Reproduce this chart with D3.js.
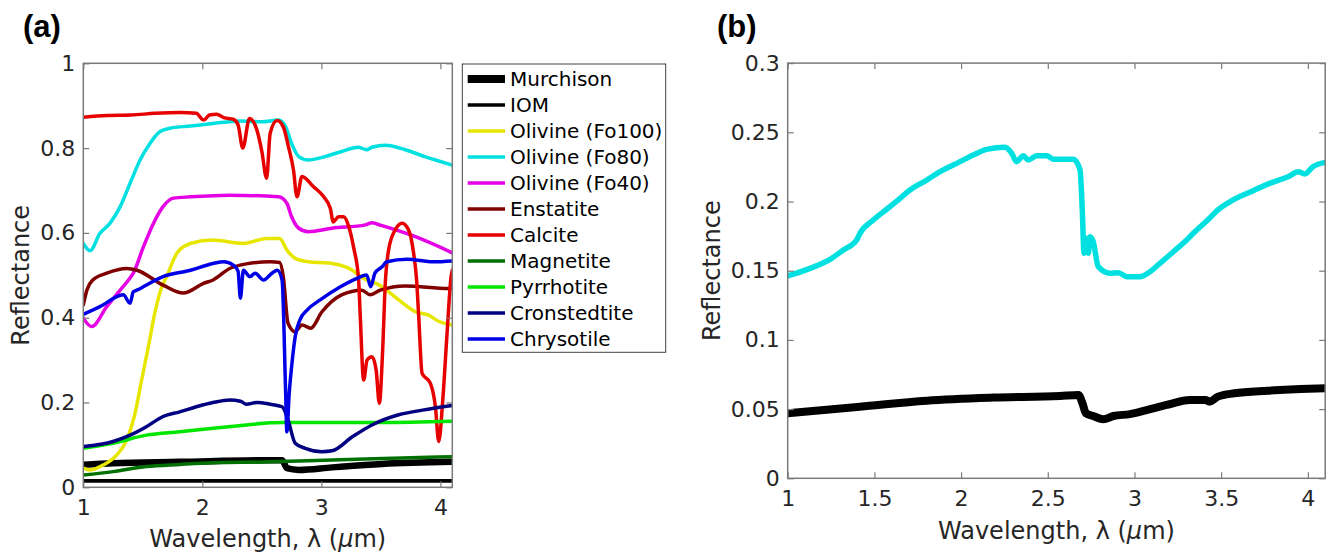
<!DOCTYPE html>
<html>
<head>
<meta charset="utf-8">
<script src="https://cdn.jsdelivr.net/npm/d3@7"></script>
<style>
body { margin: 0; background: #fff; }
svg { display: block; font-family: "DejaVu Sans", sans-serif; }
</style>
</head>
<body>
<svg id="chart" width="1328" height="556"></svg>
<script>
// ---- Panel (a) spectra, wavelength (um) / reflectance ----
var murchisonX = [1.00, 1.25, 1.81, 2.57, 2.67, 2.69, 2.71, 2.81, 3.09, 3.51, 4.10];
var murchisonY = [0.053, 0.057, 0.060, 0.064, 0.064, 0.055, 0.045, 0.041, 0.047, 0.055, 0.060];

var iomX = [1.0, 2.0, 3.0, 4.1];
var iomY = [0.015, 0.015, 0.015, 0.015];

var fo100X = [1.00, 1.056, 1.17, 1.28, 1.365, 1.435, 1.49, 1.547, 1.60, 1.66, 1.70, 1.786, 1.90, 2.09, 2.345, 2.54, 2.65, 2.71, 2.78, 2.89, 3.09, 3.26, 3.34, 3.48, 3.65, 3.79, 3.90, 3.99, 4.10];
var fo100Y = [0.045, 0.041, 0.053, 0.076, 0.112, 0.175, 0.253, 0.332, 0.410, 0.473, 0.497, 0.552, 0.575, 0.583, 0.575, 0.587, 0.587, 0.560, 0.540, 0.532, 0.528, 0.512, 0.495, 0.478, 0.442, 0.414, 0.406, 0.391, 0.383];

var fo80X = [1.00, 1.056, 1.14, 1.225, 1.31, 1.393, 1.477, 1.56, 1.645, 1.73, 1.90, 2.09, 2.32, 2.50, 2.64, 2.70, 2.75, 2.81, 2.89, 3.03, 3.17, 3.31, 3.38, 3.425, 3.54, 3.705, 3.87, 4.10];
var fo80Y = [0.575, 0.558, 0.599, 0.623, 0.662, 0.717, 0.772, 0.811, 0.839, 0.847, 0.852, 0.858, 0.864, 0.862, 0.866, 0.850, 0.811, 0.780, 0.772, 0.780, 0.792, 0.802, 0.796, 0.802, 0.807, 0.796, 0.780, 0.760];

var fo40X = [1.00, 1.07, 1.197, 1.31, 1.38, 1.42, 1.505, 1.59, 1.67, 1.757, 1.90, 2.23, 2.64, 2.71, 2.75, 2.81, 2.89, 3.09, 3.37, 3.425, 3.51, 3.79, 4.10];
var fo40Y = [0.399, 0.379, 0.426, 0.465, 0.489, 0.505, 0.567, 0.623, 0.662, 0.682, 0.685, 0.689, 0.685, 0.670, 0.638, 0.611, 0.603, 0.611, 0.619, 0.624, 0.617, 0.591, 0.553];

var enstatiteX = [1.00, 1.03, 1.08, 1.197, 1.365, 1.45, 1.67, 1.84, 2.01, 2.09, 2.23, 2.37, 2.57, 2.65, 2.68, 2.72, 2.78, 2.837, 2.91, 3.005, 3.17, 3.34, 3.41, 3.495, 3.705, 4.07, 4.10];
var enstatiteY = [0.430, 0.465, 0.489, 0.505, 0.516, 0.512, 0.477, 0.458, 0.481, 0.489, 0.516, 0.527, 0.532, 0.530, 0.497, 0.387, 0.367, 0.383, 0.375, 0.414, 0.454, 0.465, 0.454, 0.465, 0.475, 0.469, 0.469];

var calciteX = [1.00, 1.20, 1.40, 1.60, 1.81, 1.95, 2.01, 2.06, 2.12, 2.18, 2.26, 2.30, 2.34, 2.396, 2.458, 2.50, 2.54, 2.57, 2.627, 2.68, 2.724, 2.766, 2.795, 2.837, 2.934, 3.02, 3.075, 3.10, 3.145, 3.187, 3.23, 3.27, 3.313, 3.327, 3.355, 3.384, 3.425, 3.46, 3.487, 3.515, 3.537, 3.565, 3.62, 3.678, 3.733, 3.775, 3.80, 3.818, 3.846, 3.916, 3.958, 3.986, 4.02, 4.056, 4.09, 4.10];
var calciteY = [0.873, 0.877, 0.878, 0.882, 0.884, 0.882, 0.866, 0.878, 0.880, 0.872, 0.868, 0.855, 0.800, 0.870, 0.843, 0.792, 0.729, 0.835, 0.865, 0.850, 0.803, 0.748, 0.685, 0.733, 0.709, 0.685, 0.658, 0.626, 0.638, 0.638, 0.615, 0.567, 0.489, 0.402, 0.253, 0.300, 0.308, 0.277, 0.198, 0.324, 0.481, 0.560, 0.607, 0.623, 0.607, 0.552, 0.489, 0.402, 0.269, 0.245, 0.190, 0.108, 0.206, 0.363, 0.497, 0.512];

var magnetiteX = [1.00, 1.25, 1.53, 1.81, 2.09, 2.57, 2.81, 3.37, 4.10];
var magnetiteY = [0.029, 0.037, 0.049, 0.054, 0.058, 0.060, 0.062, 0.067, 0.072];

var pyrrhotiteX = [1.00, 1.25, 1.53, 1.81, 2.09, 2.37, 2.57, 2.67, 3.0, 3.5, 4.10];
var pyrrhotiteY = [0.092, 0.104, 0.123, 0.131, 0.139, 0.147, 0.152, 0.153, 0.153, 0.153, 0.156];

var cronstedtiteX = [1.00, 1.25, 1.393, 1.53, 1.67, 1.81, 1.95, 2.09, 2.23, 2.32, 2.37, 2.46, 2.57, 2.67, 2.72, 2.78, 2.865, 3.005, 3.09, 3.26, 3.425, 3.65, 3.85, 4.10];
var cronstedtiteY = [0.096, 0.108, 0.123, 0.143, 0.167, 0.178, 0.190, 0.200, 0.206, 0.203, 0.196, 0.200, 0.196, 0.190, 0.159, 0.104, 0.092, 0.084, 0.086, 0.119, 0.147, 0.171, 0.182, 0.193];

var chrysotileX = [1.00, 1.14, 1.336, 1.393, 1.42, 1.45, 1.67, 1.90, 2.09, 2.18, 2.26, 2.30, 2.32, 2.345, 2.40, 2.444, 2.514, 2.585, 2.63, 2.67, 2.70, 2.71, 2.73, 2.75, 2.78, 2.82, 2.88, 2.99, 3.16, 3.30, 3.38, 3.415, 3.45, 3.51, 3.55, 3.72, 3.94, 4.10];
var chrysotileY = [0.408, 0.426, 0.454, 0.434, 0.461, 0.465, 0.497, 0.512, 0.528, 0.532, 0.524, 0.510, 0.446, 0.512, 0.497, 0.505, 0.489, 0.505, 0.512, 0.489, 0.222, 0.131, 0.222, 0.284, 0.355, 0.395, 0.418, 0.442, 0.473, 0.493, 0.501, 0.473, 0.505, 0.520, 0.532, 0.538, 0.532, 0.534];

// ---- Panel (b) spectra ----
var cyanBX = [1.000, 1.129, 1.244, 1.321, 1.398, 1.417, 1.494, 1.571, 1.648, 1.705, 1.802, 1.878, 1.994, 2.070, 2.148, 2.253, 2.292, 2.320, 2.359, 2.387, 2.436, 2.494, 2.532, 2.647, 2.686, 2.699, 2.709, 2.720, 2.734, 2.743, 2.762, 2.791, 2.859, 2.907, 2.955, 3.032, 3.090, 3.147, 3.224, 3.301, 3.339, 3.433, 3.481, 3.552, 3.672, 3.791, 3.886, 3.946, 3.982, 4.029, 4.100];
var cyanBY = [0.1462, 0.1517, 0.1582, 0.1650, 0.1722, 0.1770, 0.1866, 0.1944, 0.2023, 0.2083, 0.2155, 0.2215, 0.2288, 0.2336, 0.2377, 0.2392, 0.2348, 0.2288, 0.2331, 0.2300, 0.2331, 0.2331, 0.2305, 0.2305, 0.2228, 0.1939, 0.1626, 0.1734, 0.1626, 0.1746, 0.1710, 0.1529, 0.1481, 0.1486, 0.1457, 0.1457, 0.1493, 0.1553, 0.1637, 0.1722, 0.1770, 0.1879, 0.1939, 0.1999, 0.2071, 0.2136, 0.2179, 0.2215, 0.2199, 0.2251, 0.2283];

var blackBX = [1.000, 1.417, 1.802, 2.187, 2.571, 2.677, 2.700, 2.720, 2.762, 2.820, 2.878, 2.974, 3.070, 3.186, 3.320, 3.409, 3.433, 3.481, 3.576, 3.767, 3.958, 4.100];
var blackBY = [0.0470, 0.0517, 0.0561, 0.0583, 0.0595, 0.0602, 0.0542, 0.0470, 0.0450, 0.0426, 0.0450, 0.0464, 0.0493, 0.0530, 0.0566, 0.0566, 0.0554, 0.0590, 0.0614, 0.0633, 0.0645, 0.0650];

// ticks
var xTicksA = [1, 2, 3, 4];
var yTicksA = [0, 0.2, 0.4, 0.6, 0.8, 1];
var xTicksB = [1, 1.5, 2, 2.5, 3, 3.5, 4];
var yTicksB = [0, 0.05, 0.1, 0.15, 0.2, 0.25, 0.3];

//Colors
var axisColor = "#7a7a7a";
var textColor = "#262626";

var seriesA = [
    { name: "Murchison", x: murchisonX, y: murchisonY, color: "#000000", width: 6.5 },
    { name: "IOM", x: iomX, y: iomY, color: "#000000", width: 3.8 },
    { name: "Olivine (Fo100)", x: fo100X, y: fo100Y, color: "#e6e600", width: 3.5 },
    { name: "Olivine (Fo80)", x: fo80X, y: fo80Y, color: "#00e0e0", width: 3.5 },
    { name: "Olivine (Fo40)", x: fo40X, y: fo40Y, color: "#e600e6", width: 3.5 },
    { name: "Enstatite", x: enstatiteX, y: enstatiteY, color: "#800000", width: 3.5 },
    { name: "Calcite", x: calciteX, y: calciteY, color: "#e60000", width: 3.5 },
    { name: "Magnetite", x: magnetiteX, y: magnetiteY, color: "#007000", width: 3.5 },
    { name: "Pyrrhotite", x: pyrrhotiteX, y: pyrrhotiteY, color: "#00e600", width: 3.5 },
    { name: "Cronstedtite", x: cronstedtiteX, y: cronstedtiteY, color: "#000080", width: 3.5 },
    { name: "Chrysotile", x: chrysotileX, y: chrysotileY, color: "#0000e6", width: 3.5 }
];

var seriesB = [
    { x: cyanBX, y: cyanBY, color: "#00e0e0", width: 5.5 },
    { x: blackBX, y: blackBY, color: "#000000", width: 8 }
];

var svg = d3.select("#chart");

var xA = d3.scaleLinear().domain([1, 4.1]).range([83.3, 452.3]);
var yA = d3.scaleLinear().domain([0, 1]).range([487.3, 63.3]);
var xB = d3.scaleLinear().domain([1, 4.1]).range([787.7, 1325.2]);
var yB = d3.scaleLinear().domain([0, 0.3]).range([478.3, 63.1]);

function pairs(s) {
    var n = Math.min(s.x.length, s.y.length);
    return d3.range(n).map(function (i) { return [s.x[i], s.y[i]]; });
}

// axes box, inward ticks, labels
function drawAxes(id, x, y, xt, yt, xlabY, ylabX) {
    var g = svg.append("g").attr("class", "axes-" + id);
    var x0 = x.range()[0], x1 = x.range()[1], y0 = y.range()[0], y1 = y.range()[1];

    g.append("g").attr("transform", "translate(0," + y0 + ")")
        .call(d3.axisBottom(x).tickValues(xt).tickSize(-6).tickPadding(12).tickFormat(d3.format("~g")));
    g.append("g").attr("transform", "translate(0," + y1 + ")")
        .call(d3.axisTop(x).tickValues(xt).tickSize(-6).tickFormat(""));
    g.append("g").attr("transform", "translate(" + x0 + ",0)")
        .call(d3.axisLeft(y).tickValues(yt).tickSize(-6).tickPadding(8).tickFormat(d3.format("~g")));
    g.append("g").attr("transform", "translate(" + x1 + ",0)")
        .call(d3.axisRight(y).tickValues(yt).tickSize(-6).tickFormat(""));

    g.selectAll(".domain").remove();
    g.selectAll(".tick line").attr("stroke", axisColor).attr("stroke-width", 1.2);
    g.selectAll(".tick text").attr("fill", textColor).attr("font-size", "22px")
        .attr("font-family", "DejaVu Sans");

    g.append("rect")
        .attr("x", x0).attr("y", y1)
        .attr("width", x1 - x0).attr("height", y0 - y1)
        .attr("fill", "none").attr("stroke", axisColor).attr("stroke-width", 1.5);

    var xl = g.append("text")
        .attr("x", (x0 + x1) / 2).attr("y", xlabY)
        .attr("text-anchor", "middle").attr("font-size", "24px").attr("fill", textColor);
    xl.append("tspan").text("Wavelength, \u03bb (");
    xl.append("tspan").attr("font-style", "italic").text("\u03bc");
    xl.append("tspan").text("m)");

    g.append("text")
        .attr("transform", "translate(" + ylabX + "," + ((y0 + y1) / 2) + ") rotate(-90)")
        .attr("text-anchor", "middle").attr("dy", "0.35em")
        .attr("font-size", "24px").attr("fill", textColor)
        .text("Reflectance");
}

function drawLines(id, x, y, list) {
    svg.append("clipPath").attr("id", "clip-" + id)
        .append("rect")
        .attr("x", x.range()[0]).attr("y", y.range()[1])
        .attr("width", x.range()[1] - x.range()[0]).attr("height", y.range()[0] - y.range()[1]);

    var line = d3.line()
        .x(function (d) { return x(d[0]); })
        .y(function (d) { return y(d[1]); })
        .curve(d3.curveMonotoneX);

    svg.append("g").attr("clip-path", "url(#clip-" + id + ")")
        .selectAll("path").data(list).enter().append("path")
        .attr("d", function (d) { return line(pairs(d)); })
        .attr("fill", "none")
        .attr("stroke", function (d) { return d.color; })
        .attr("stroke-width", function (d) { return d.width; })
        .attr("stroke-linejoin", "round")
        .attr("stroke-linecap", "round");
}

drawLines("a", xA, yA, seriesA);
drawAxes("a", xA, yA, xTicksA, yTicksA, 547, 21);

drawLines("b", xB, yB, seriesB);
drawAxes("b", xB, yB, xTicksB, yTicksB, 539, 712);

// legend
var legend = svg.append("g").attr("class", "legend");
legend.append("rect")
    .attr("x", 462.3).attr("y", 64).attr("width", 203.4).attr("height", 288.3)
    .attr("fill", "#fff").attr("stroke", "#404040").attr("stroke-width", 1);

var rows = legend.selectAll(".row").data(seriesA).enter().append("g")
    .attr("class", "row")
    .attr("transform", function (d, i) { return "translate(0," + (79 + i * 26) + ")"; });
rows.append("line")
    .attr("x1", 467.7).attr("x2", 505).attr("y1", 0).attr("y2", 0)
    .attr("stroke", function (d) { return d.color; })
    .attr("stroke-width", function (d) { return d.name == "Murchison" ? 8 : 3.5; });
rows.append("text")
    .attr("x", 510).attr("y", 7)
    .attr("font-size", "20px").attr("fill", "#000")
    .text(function (d) { return d.name; });

// panel letters
svg.append("text").attr("x", 23).attr("y", 37)
    .attr("font-family", "Liberation Sans").attr("font-weight", "bold")
    .attr("font-size", "31px").attr("fill", "#000").text("(a)");
svg.append("text").attr("x", 717).attr("y", 37)
    .attr("font-family", "Liberation Sans").attr("font-weight", "bold")
    .attr("font-size", "31px").attr("fill", "#000").text("(b)");
</script>
</body>
</html>
